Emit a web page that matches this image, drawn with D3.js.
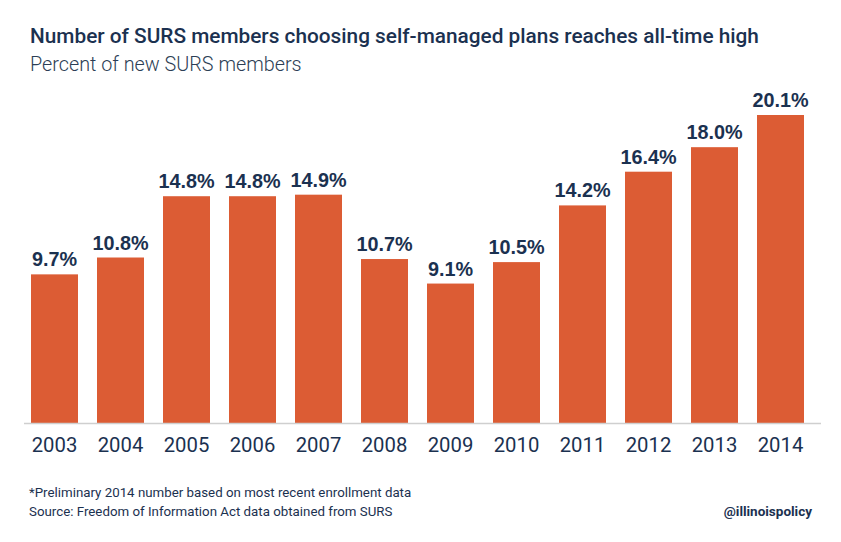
<!DOCTYPE html>
<html><head><meta charset="utf-8">
<script src="https://cdn.jsdelivr.net/npm/d3@7"></script>
<style>body{margin:0;background:#fff;}svg{display:block;}</style>
</head><body>
<script>
const years = ["2003","2004","2005","2006","2007","2008","2009","2010","2011","2012","2013","2014"];
const values = [9.7,10.8,14.8,14.8,14.9,10.7,9.1,10.5,14.2,16.4,18.0,20.1];
const title = "Number of SURS members choosing self-managed plans reaches all-time high";
const subtitle = "Percent of new SURS members";
const notes = ["*Preliminary 2014 number based on most recent enrollment data","Source: Freedom of Information Act data obtained from SURS"];
const handle = "@illinoispolicy";

const W=841,H=542;
const navy="#1b3150", orange="#dc5c34";
const svg=d3.select("body").append("svg").attr("width",W).attr("height",H);
const font="Roboto, 'Liberation Sans', sans-serif";

const x=d3.scaleBand().domain(years).range([21.5,813.5]).paddingInner(19/66).paddingOuter(9.5/66);
const y=d3.scaleLinear().domain([0,20.1]).range([423,115]);

svg.append("text").attr("x",30).attr("y",43).attr("font-family",font).attr("font-weight",500)
  .attr("font-size",20.8).attr("fill",navy).text(title);
svg.append("text").attr("x",30).attr("y",71).attr("font-family",font).attr("font-weight",300)
  .attr("font-size",19.8).attr("fill","#2c3e55").text(subtitle);

svg.selectAll("rect.bar").data(values).join("rect").attr("class","bar")
  .attr("x",(d,i)=>x(years[i])).attr("width",x.bandwidth())
  .attr("y",d=>y(d)).attr("height",d=>y(0)-y(d)).attr("fill",orange);

svg.selectAll("text.val").data(values).join("text").attr("class","val")
  .attr("x",(d,i)=>x(years[i])+x.bandwidth()/2).attr("y",d=>y(d)-8)
  .attr("text-anchor","middle").attr("font-family","'Liberation Sans', Arial, sans-serif").attr("font-weight",700)
  .attr("font-size",19.8).attr("fill",navy).text(d=>d.toFixed(1)+"%");

const ax=svg.append("g").attr("transform","translate(0,423)")
  .call(d3.axisBottom(x).tickSize(0).tickPadding(0));
ax.select(".domain").remove();
ax.selectAll("text").attr("font-family",font).attr("font-size",20.3).attr("fill",navy).attr("dy",0).attr("y",29);
svg.append("line").attr("x1",24).attr("x2",821).attr("y1",423.5).attr("y2",423.5).attr("stroke","#cfcfcf").attr("stroke-width",1.5);

notes.forEach((t,i)=>svg.append("text").attr("x",29).attr("y",497+i*19).attr("font-family",font)
  .attr("font-size",13.3).attr("fill",navy).text(t));
svg.append("text").attr("x",812).attr("y",516).attr("text-anchor","end").attr("font-family",font)
  .attr("font-weight",700).attr("font-size",13.5).attr("fill",navy).text(handle);
</script>
</body></html>
